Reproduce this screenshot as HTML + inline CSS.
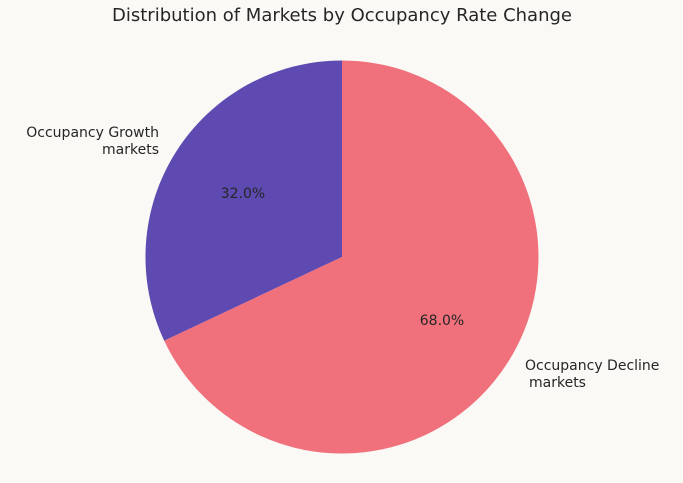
<!DOCTYPE html>
<html><head><meta charset="utf-8"><style>
html,body{margin:0;padding:0;background:#faf9f6;}
svg{display:block;font-family:"DejaVu Sans","Liberation Sans",sans-serif;}
</style></head><body>
<svg width="683" height="483" viewBox="0 0 683 483">
<rect width="683" height="483" fill="#faf9f6"/>
<text x="342" y="21" text-anchor="middle" font-size="18" fill="#262626">Distribution of Markets by Occupancy Rate Change</text>
<path d="M342,257 L342,60.5 A196.5,196.5 0 0 0 164.2,340.7 Z" fill="#5e4ab1"/>
<path d="M342,257 L164.2,340.7 A196.5,196.5 0 1 0 342,60.5 Z" fill="#f0707b"/>
<g font-size="14" fill="#262626">
<text x="159" y="137" text-anchor="end">Occupancy Growth</text>
<text x="159" y="154" text-anchor="end">markets</text>
<text x="243" y="198" text-anchor="middle">32.0%</text>
<text x="442" y="325" text-anchor="middle">68.0%</text>
<text x="525" y="370">Occupancy Decline</text>
<text x="529" y="387">markets</text>
</g>
</svg>
</body></html>
